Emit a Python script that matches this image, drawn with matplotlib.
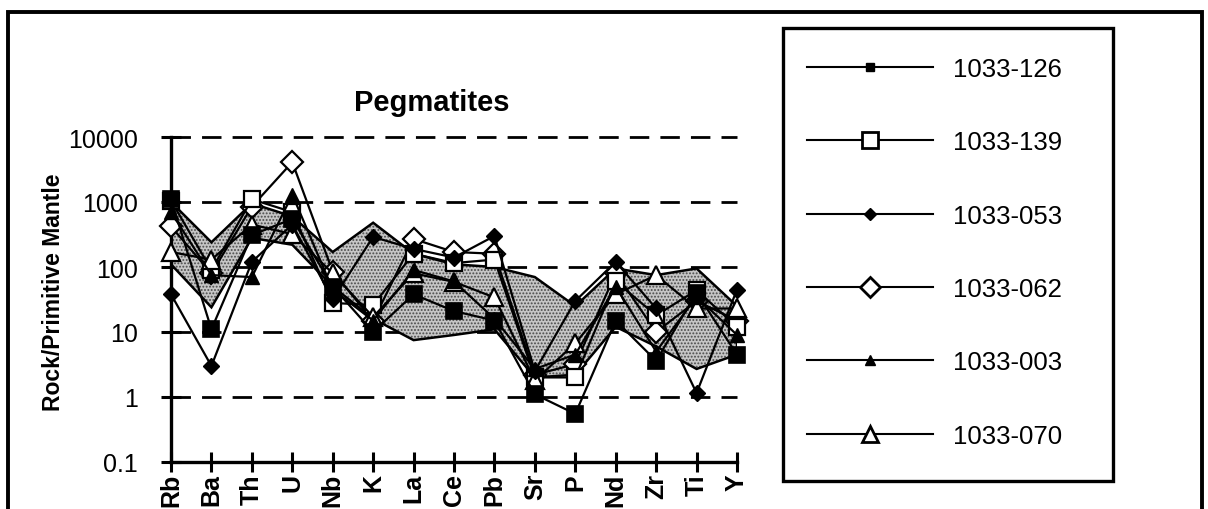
import matplotlib
matplotlib.use("Agg")
import matplotlib.pyplot as plt
from matplotlib.lines import Line2D
from matplotlib.patches import Polygon, Rectangle
import numpy as np

plt.rcParams['font.family'] = ['Liberation Sans', 'DejaVu Sans']
plt.rcParams['hatch.linewidth'] = 0.9

# ---------------- data ----------------
elements = ['Rb', 'Ba', 'Th', 'U', 'Nb', 'K', 'La', 'Ce', 'Pb', 'Sr', 'P', 'Nd', 'Zr', 'Ti', 'Y']

s_1033_126 = [1100, 11, 310, 550, 50, 10, 38, 21, 15, 1.1, 0.55, 15, 3.6, 40, 4.5]
s_1033_139 = [1050, 90, 1100, 700, 28, 26, 160, 115, 130, 2.0, 2.0, 60, 18, 44, 12]
s_1033_053 = [38, 3.0, 120, 450, 32, 290, 190, 140, 300, 2.5, 30, 120, 23, 1.15, 45]
s_1033_062 = [420, 80, 850, 4100, 85, 15, 270, 170, 160, 2.2, 3.2, 80, 10, 30, 15]
s_1033_003 = [700, 75, 70, 1300, 45, 15, 90, 60, 16, 2.7, 4.5, 50, 5, 35, 9]
s_1033_070 = [170, 130, 450, 320, 80, 17, 80, 59, 34, 1.8, 6.7, 38, 75, 23, 23]

# shaded comparison field: two bounding lines
field_a = [1000, 240, 950, 600, 170, 480, 160, 110, 100, 70, 25, 95, 75, 95, 25]
field_b = [110, 24, 280, 220, 50, 16, 7.5, 9, 11, 2.0, 2.2, 12, 6, 2.7, 4.5]

series_labels = ['1033-126', '1033-139', '1033-053', '1033-062', '1033-003', '1033-070']
yticks = [0.1, 1, 10, 100, 1000, 10000]
ytick_labels = ['0.1', '1', '10', '100', '1000', '10000']

# ---------------- figure ----------------
W, H = 1208, 510
fig = plt.figure(figsize=(W / 100, H / 100), dpi=100)

def fx(px):
    return px / W

def fy(py):
    return 1 - py / H

ax_l, ax_r, ax_t, ax_b = 171, 737, 138, 463
ax = fig.add_axes([fx(ax_l), fy(ax_b), (ax_r - ax_l) / W, (ax_b - ax_t) / H])
ax.set_yscale('log')
ax.set_xlim(0, len(elements) - 1)
ax.set_ylim(0.1, 10000)

x = np.arange(len(elements))

# dashed reference lines
for v in [1, 10, 100, 1000, 10000]:
    ax.axhline(v, color='black', lw=2.0, dashes=(7, 4), zorder=1, clip_on=False)

# shaded field
verts = list(zip(x, field_a)) + list(zip(x[::-1], field_b[::-1]))
ax.add_patch(Polygon(verts, closed=True, facecolor='#c6c6c6', edgecolor='#4a4a4a',
                     hatch='.....', lw=0, zorder=2))
ax.add_patch(Polygon(verts, closed=True, fill=False, edgecolor='black', lw=1.8, zorder=3))

# series
styles = [
    (s_1033_126, dict(marker='s', ms=12, mfc='black', mec='black', mew=1.2), 6),
    (s_1033_139, dict(marker='s', ms=11, mfc='white', mec='black', mew=1.6), 5),
    (s_1033_053, dict(marker='D', ms=8, mfc='black', mec='black', mew=1.0), 7),
    (s_1033_062, dict(marker='D', ms=11, mfc='white', mec='black', mew=1.6), 4),
    (s_1033_003, dict(marker='^', ms=10, mfc='black', mec='black', mew=1.0), 8),
    (s_1033_070, dict(marker='^', ms=13, mfc='white', mec='black', mew=1.6), 5),
]
for vals, st, z in styles:
    ax.plot(x, vals, color='black', lw=1.6, zorder=z, clip_on=False, **st)

# axes styling
for s in ['top', 'right']:
    ax.spines[s].set_visible(False)
for s in ['left', 'bottom']:
    ax.spines[s].set_linewidth(2.4)
ax.set_yticks(yticks)
ax.set_yticklabels(ytick_labels)
ax.yaxis.set_minor_locator(matplotlib.ticker.NullLocator())
ax.set_xticks(x)
ax.set_xticklabels(elements, rotation=90, fontweight='bold', fontsize=18)
ax.tick_params(axis='y', direction='inout', length=14, width=2.2, labelsize=18, pad=17)
ax.tick_params(axis='x', direction='inout', length=14, width=2.2, pad=1)

# title and y label
fig.text(fx(432), fy(103), 'Pegmatites', ha='center', va='center',
         fontsize=21, fontweight='bold')
fig.text(fx(54), fy(292), 'Rock/Primitive Mantle', ha='center', va='center',
         rotation=90, fontsize=16.5, fontweight='bold')

# legend
handles = [
    Line2D([], [], color='black', lw=1.5, marker='s', ms=6, mfc='black', mec='black'),
    Line2D([], [], color='black', lw=1.5, marker='s', ms=11, mfc='white', mec='black', mew=2),
    Line2D([], [], color='black', lw=1.5, marker='D', ms=6, mfc='black', mec='black'),
    Line2D([], [], color='black', lw=1.5, marker='D', ms=10, mfc='white', mec='black', mew=2),
    Line2D([], [], color='black', lw=1.5, marker='^', ms=7, mfc='black', mec='black'),
    Line2D([], [], color='black', lw=1.5, marker='^', ms=12, mfc='white', mec='black', mew=2),
]
fig.legend(handles, series_labels, loc='upper left', bbox_to_anchor=(fx(807), fy(58)),
           frameon=False, fontsize=18.5, handlelength=4.9, handletextpad=0.78,
           labelspacing=1.92, borderpad=0, borderaxespad=0)
fig.add_artist(Rectangle((fx(783), fy(482)), (1113 - 783) / W, (482 - 29) / H,
                         transform=fig.transFigure, fill=False, lw=2.4, edgecolor='black'))

# outer frame
fig.add_artist(Rectangle((fx(8), fy(520)), (1202 - 8) / W, (520 - 13) / H,
                         transform=fig.transFigure, fill=False, lw=2.8, edgecolor='black',
                         clip_on=False))

fig.savefig('out.png', dpi=100)
